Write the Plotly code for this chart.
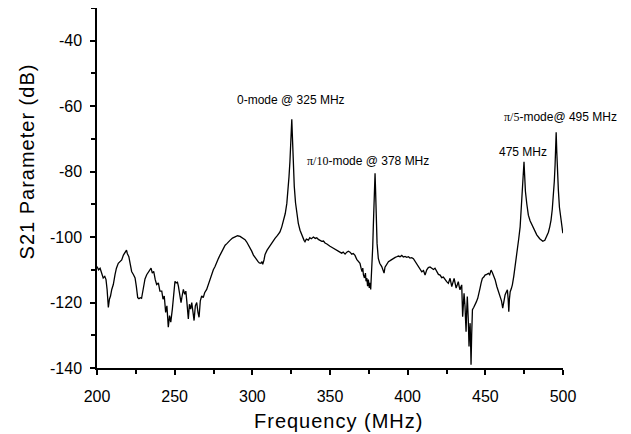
import plotly.graph_objects as go

freq_mhz = [
    200.0, 201.0, 202.0, 203.0, 204.0, 205.0, 205.8, 206.5, 207.3, 208.0, 208.7, 209.5, 210.5, 211.6, 212.5,
    213.7, 215.0, 215.9, 217.0, 218.0, 219.0, 219.5, 220.5, 221.5, 222.3, 223.5, 224.5, 225.3, 226.2, 227.0,
    228.0, 228.7, 229.5, 230.9, 232.0, 233.0, 234.1, 234.8, 235.6, 236.5, 237.5, 238.4, 239.5, 240.5, 241.7,
    242.5, 243.3, 244.2, 245.0, 245.9, 246.7, 247.5, 248.5, 249.3, 250.2, 251.0, 251.8, 252.4, 253.2, 254.1,
    254.8, 255.6, 256.5, 257.2, 257.8, 258.8, 259.5, 260.3, 261.0, 261.7, 262.5, 263.3, 264.2, 265.0, 265.7,
    266.5, 267.4, 268.4, 269.3, 270.6, 271.7, 272.8, 273.8, 274.9, 276.0, 277.1, 278.2, 279.2, 280.3, 281.4,
    282.5, 283.6, 284.6, 285.6, 287.2, 288.9, 290.5, 292.1, 293.7, 295.3, 296.4, 297.4, 298.5, 299.6, 300.7,
    301.7, 302.8, 303.7, 304.5, 305.5, 306.2, 306.7, 307.5, 308.2, 309.5, 311.4, 313.0, 314.6, 316.2, 317.8,
    319.0, 320.0, 321.2, 322.2, 323.0, 323.6, 324.2, 324.7, 325.1, 325.4, 325.7, 326.0, 326.5, 327.0, 327.8,
    328.6, 329.6, 330.7, 332.0, 333.3, 333.9, 334.8, 336.1, 337.0, 338.0, 339.3, 340.5, 341.5, 342.5, 343.5,
    344.7, 345.8, 346.8, 348.0, 349.0, 350.0, 351.1, 352.2, 353.3, 354.3, 355.4, 356.5, 357.5, 358.5, 359.7,
    360.8, 361.8, 362.9, 364.0, 365.0, 366.1, 367.2, 368.2, 369.3, 370.0, 370.6, 371.1, 371.5, 372.2, 372.8,
    373.2, 373.7, 374.2, 374.7, 375.3, 375.8, 376.2, 376.6, 377.1, 377.5, 377.9, 378.3, 378.7, 379.0, 379.3,
    379.6, 379.8, 380.3, 381.1, 382.0, 383.3, 384.2, 384.8, 385.4, 386.5, 387.6, 388.7, 389.8, 390.8, 392.0,
    393.0, 394.0, 395.1, 396.2, 397.2, 398.3, 399.4, 400.5, 401.5, 402.6, 403.7, 404.8, 405.9, 407.0, 408.0,
    409.1, 410.2, 411.2, 412.3, 413.3, 414.4, 415.5, 416.6, 417.6, 418.7, 419.8, 420.9, 421.9, 423.0, 424.1,
    425.1, 426.2, 427.3, 428.4, 429.2, 429.9, 430.6, 431.2, 432.0, 432.6, 433.2, 433.7, 434.3, 434.8, 435.4,
    435.9, 436.3, 436.9, 437.6, 438.0, 438.4, 439.0, 439.5, 439.8, 440.2, 440.5, 440.8, 441.2, 441.7, 442.5,
    443.4, 444.2, 445.1, 445.9, 446.6, 447.3, 448.1, 449.0, 449.8, 450.9, 452.0, 452.8, 453.7, 454.5, 455.2,
    456.3, 457.4, 458.5, 459.5, 460.4, 461.2, 462.0, 462.7, 463.5, 464.2, 464.7, 465.1, 465.5, 466.0, 466.7,
    467.4, 468.3, 469.2, 470.0, 470.7, 471.5, 472.4, 473.2, 473.8, 474.4, 474.9, 475.3, 475.8, 476.7, 477.7,
    478.8, 479.9, 481.5, 483.1, 485.0, 487.0, 488.3, 489.5, 490.6, 491.5, 492.3, 493.1, 493.8, 494.4, 494.9,
    495.3, 495.6, 496.0, 496.4, 497.0, 497.7, 498.8, 499.9,
]

s21_db = [
    -109.0, -110.0, -109.5, -110.8, -112.5, -112.0, -113.0, -116.0, -121.5, -119.0, -118.0, -116.0, -114.5, -111.5, -109.5,
    -108.0, -107.5, -107.0, -105.5, -104.5, -104.0, -105.0, -106.0, -108.5, -110.5, -111.5, -112.5, -115.0, -118.5, -118.8,
    -118.5, -118.7, -116.0, -112.8, -111.5, -110.8, -110.0, -109.5, -111.0, -110.5, -113.0, -114.5, -114.0, -116.5, -116.5,
    -119.0, -118.0, -123.0, -121.0, -127.5, -124.0, -126.0, -122.0, -118.0, -113.5, -114.0, -113.8, -115.0, -117.5, -120.0,
    -118.0, -116.0, -117.5, -116.5, -119.5, -125.0, -120.5, -122.0, -120.0, -123.5, -125.5, -121.0, -120.0, -123.0, -124.5,
    -119.5, -118.0, -118.5, -117.0, -116.0, -114.5, -112.5, -111.5, -110.0, -109.0, -107.5, -106.5, -105.5, -104.5, -103.5,
    -102.5, -102.0, -101.3, -101.0, -100.3, -100.0, -99.6, -99.8, -100.2, -100.8, -101.5, -102.3, -103.3, -104.3, -105.5,
    -106.3, -107.2, -107.5, -107.9, -108.0, -107.5, -108.3, -107.0, -105.3, -104.0, -102.5, -101.5, -100.4, -99.5, -98.4,
    -96.8, -95.3, -92.8, -89.7, -86.0, -81.6, -77.0, -72.5, -68.0, -64.0, -68.0, -73.5, -79.5, -84.5, -89.5,
    -92.8, -95.8, -97.9, -99.8, -101.0, -101.4, -100.6, -100.9, -100.2, -100.5, -100.0, -100.4, -100.2, -100.7, -100.9,
    -101.3, -101.2, -101.8, -102.1, -102.6, -102.8, -103.1, -103.4, -103.6, -103.9, -104.2, -104.4, -104.9, -104.6, -105.2,
    -104.6, -104.3, -104.6, -105.2, -105.0, -105.6, -106.8, -107.5, -108.0, -109.5, -110.5, -109.5, -111.5, -112.5, -111.0,
    -113.5, -112.5, -115.0, -113.0, -115.5, -114.0, -116.0, -113.0, -109.5, -103.0, -96.5, -89.0, -83.0, -80.5, -85.0,
    -92.0, -96.5, -102.0, -106.5, -108.0, -109.0, -110.0, -111.0, -109.2, -108.5, -107.5, -107.2, -106.8, -106.5, -106.2,
    -106.0, -105.8, -106.0, -105.6, -106.1, -105.9, -106.2, -106.0, -106.4, -106.3, -106.6, -107.5, -108.2, -109.1, -109.8,
    -110.6, -110.2, -111.6, -110.0, -109.3, -109.1, -109.6, -109.9, -109.5, -110.6, -111.4, -111.6, -112.4, -112.2, -113.1,
    -113.6, -114.1, -112.6, -115.1, -113.5, -112.6, -114.2, -115.6, -114.5, -113.6, -115.2, -116.1, -115.2, -114.6, -124.3,
    -119.0, -117.2, -121.0, -128.9, -122.5, -118.2, -125.0, -133.4, -129.0, -126.3, -132.0, -139.0, -130.0, -122.2, -121.5,
    -120.7, -119.8, -118.7, -116.5, -115.6, -114.0, -112.6, -112.2, -111.6, -111.4, -111.1, -111.5, -110.1, -110.8, -111.6,
    -113.0, -115.1, -116.5, -118.2, -119.5, -121.7, -119.0, -117.7, -116.8, -116.1, -119.0, -122.8, -119.0, -116.7, -115.8,
    -114.6, -112.0, -109.1, -106.5, -104.0, -100.5, -96.9, -90.0, -84.7, -80.0, -77.0, -81.0, -86.0, -89.9, -93.3,
    -95.0, -96.0, -97.7, -99.3, -100.5, -101.3, -101.0, -99.8, -98.5, -96.8, -94.8, -91.5, -87.9, -83.0, -78.0,
    -72.0, -68.0, -74.0, -80.0, -85.5, -90.9, -95.0, -98.8,
]

y_tick_vals = [-140, -120, -100, -80, -60, -40]
y_tick_text = ["-140", "-120", "-100", "-80", "-60", "-40"]
x_tick_vals = [200, 250, 300, 350, 400, 450, 500]
x_tick_text = ["200", "250", "300", "350", "400", "450", "500"]

SERIF = "font-family:Liberation Serif, Times New Roman, serif"
mode_labels = [
    "0-mode @ 325 MHz",
    f"<span style='{SERIF}'>π/10</span>-mode @ 378 MHz",
    "475 MHz",
    f"<span style='{SERIF}'>π/5</span>-mode@ 495 MHz",
]
mode_label_x = [325.2, 374.5, 474.3, 498.1]
mode_label_y = [-58.0, -76.9, -74.1, -63.2]

FONT = "Arial, Liberation Sans, sans-serif"

fig = go.Figure()
fig.add_trace(go.Scatter(
    x=freq_mhz, y=s21_db, mode="lines",
    line=dict(color="black", width=1.3),
    showlegend=False, hoverinfo="skip",
))

for txt, lx, ly in zip(mode_labels, mode_label_x, mode_label_y):
    fig.add_annotation(x=lx, y=ly, xref="x", yref="y", text=txt, showarrow=False,
                       font=dict(family=FONT, size=12, color="black"),
                       xanchor="center", yanchor="middle")

fig.add_annotation(x=-0.150, y=0.574, xref="paper", yref="paper",
                   text="<span style='letter-spacing:1px'>S21 Parameter (dB)</span>",
                   textangle=-90, showarrow=False, font=dict(family=FONT, size=20, color="black"),
                   xanchor="center", yanchor="middle")
fig.add_annotation(x=0.519, y=-0.147, xref="paper", yref="paper",
                   text="<span style='letter-spacing:1px'>Frequency (MHz)</span>",
                   showarrow=False, font=dict(family=FONT, size=20, color="black"),
                   xanchor="center", yanchor="middle")

fig.update_layout(
    width=623, height=426,
    margin=dict(l=89, r=68, t=0, b=66),
    paper_bgcolor="white", plot_bgcolor="white",
    font=dict(family=FONT, color="black"),
    xaxis=dict(
        range=[200, 500], tickmode="array", tickvals=x_tick_vals, ticktext=x_tick_text,
        showgrid=False, zeroline=False, showline=True, linecolor="black", linewidth=1.5,
        ticks="outside", ticklen=5, tickwidth=1.5, tickcolor="black",
        tickfont=dict(family=FONT, size=16, color="black"),
        minor=dict(dtick=25, tick0=200, ticks="outside", ticklen=4, tickwidth=1.5, tickcolor="black", showgrid=False),
        ticklabelstandoff=8,
    ),
    yaxis=dict(
        range=[-140, -30], tickmode="array", tickvals=y_tick_vals, ticktext=y_tick_text,
        showgrid=False, zeroline=False, showline=True, linecolor="black", linewidth=1.5,
        ticks="outside", ticklen=5, tickwidth=1.5, tickcolor="black",
        tickfont=dict(family=FONT, size=16, color="black"),
        minor=dict(dtick=10, tick0=-140, ticks="outside", ticklen=4, tickwidth=1.5, tickcolor="black", showgrid=False),
        ticklabelstandoff=5,
    ),
)

fig.write_html("out.html")
